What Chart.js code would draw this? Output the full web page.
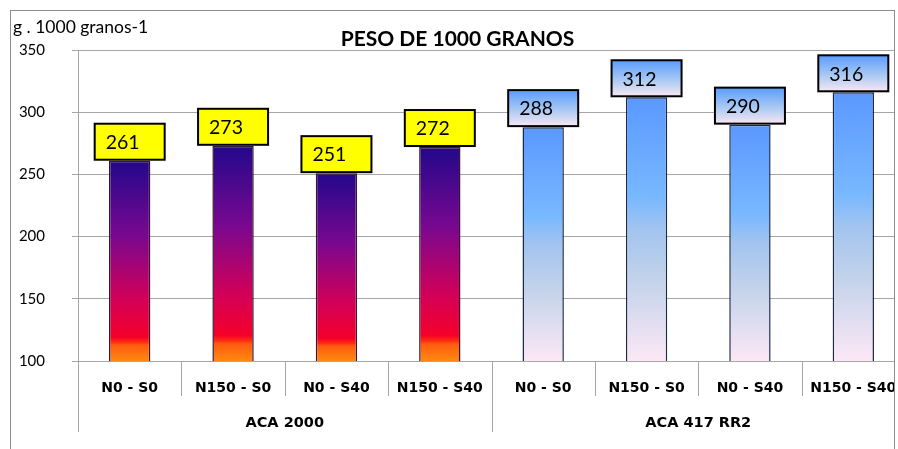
<!DOCTYPE html>
<html>
<head>
<meta charset="utf-8">
<script src="https://cdn.jsdelivr.net/npm/chart.js@4.4.0/dist/chart.umd.min.js"></script>
<style>
  html, body { margin: 0; padding: 0; background: #fff; overflow: hidden; width: 898px; height: 449px; }
  canvas { display: block; }
</style>
</head>
<body>
<!-- the picture is cropped on the right, so the canvas runs a few pixels past the window -->
<canvas id="chart" width="905" height="449"></canvas>
<script>
// data
const categories = ['N0 - S0', 'N150 - S0', 'N0 - S40', 'N150 - S40', 'N0 - S0', 'N150 - S0', 'N0 - S40', 'N150 - S40'];
const groups = ['ACA 2000', 'ACA 417 RR2'];
const groupSizes = [4, 4];
const weights = [261, 273, 251, 272, 288, 312, 290, 316];
const yMin = 100, yMax = 350, yStep = 50;
const chartTitle = 'PESO DE 1000 GRANOS';
const yCaption = 'g . 1000 granos-1';

// group index of every bar
const groupOf = [];
groupSizes.forEach((n, g) => { for (let i = 0; i < n; i++) groupOf.push(g); });

function barGradient(ctx, top, bottom, g) {
    const grad = ctx.createLinearGradient(0, top, 0, bottom);
    if (g === 0) {
        grad.addColorStop(0, '#22088a');
        grad.addColorStop(0.37, '#780890');
        grad.addColorStop(0.69, '#d20058');
        grad.addColorStop(0.88, '#f5002a');
        grad.addColorStop(0.905, '#ff2a10');
        grad.addColorStop(0.92, '#ff5a10');
        grad.addColorStop(1, '#ff8a10');
    } else {
        grad.addColorStop(0, '#5a98ff');
        grad.addColorStop(0.38, '#78b8ff');
        grad.addColorStop(0.5, '#a2c4ef');
        grad.addColorStop(0.7, '#c4d3ea');
        grad.addColorStop(1, '#fce8f6');
    }
    return grad;
}

const framePlugin = {
    id: 'frame',
    afterDraw(chart) {
        const ctx = chart.ctx;
        const area = chart.chartArea;
        const x = chart.scales.x;
        ctx.save();
        // y caption
        ctx.fillStyle = '#000';
        ctx.font = '17.5px Lato';
        ctx.textBaseline = 'middle';
        ctx.textAlign = 'left';
        ctx.fillText(yCaption, 13, 27);

        // separators under the x axis
        ctx.strokeStyle = '#a6a6a6';
        ctx.lineWidth = 1;
        const shortEnd = area.bottom + 35;
        const longEnd = area.bottom + 71;
        let idx = 0;
        const edges = [area.left];
        for (let i = 1; i < categories.length; i++) {
            edges.push((x.getPixelForValue(i - 1) + x.getPixelForValue(i)) / 2);
        }
        edges.push(area.right);
        const groupEdges = [0];
        groupSizes.forEach(n => { idx += n; groupEdges.push(idx); });
        edges.forEach((ex, i) => {
            const end = groupEdges.includes(i) ? longEnd : shortEnd;
            const px = Math.round(ex) + 0.5;
            ctx.beginPath();
            ctx.moveTo(px, area.bottom);
            ctx.lineTo(px, end);
            ctx.stroke();
        });

        // group labels
        ctx.fillStyle = '#000';
        ctx.font = 'bold 14.5px "DejaVu Sans"';
        ctx.textAlign = 'center';
        groups.forEach((name, g) => {
            const cx = (edges[groupEdges[g]] + edges[groupEdges[g + 1]]) / 2;
            ctx.fillText(name, cx, area.bottom + 62);
        });

        // outer frame
        ctx.clearRect(895, 0, chart.width - 895, chart.height);
        ctx.strokeStyle = '#8c8c8c';
        ctx.strokeRect(10.5, 10.5, 884, 460);
        ctx.restore();
    }
};

const boxLabelPlugin = {
    id: 'boxLabels',
    afterDatasetsDraw(chart) {
        const ctx = chart.ctx;
        const meta = chart.getDatasetMeta(0);
        ctx.save();
        meta.data.forEach((bar, i) => {
            const w = 70, h = 36;
            const left = bar.x - w / 2;
            const top = bar.y - 1 - h;
            if (groupOf[i] === 0) {
                ctx.fillStyle = '#ffff00';
            } else {
                const grad = ctx.createLinearGradient(0, top, 0, top + h);
                grad.addColorStop(0, '#5a9cff');
                grad.addColorStop(0.55, '#a9c9f2');
                grad.addColorStop(1, '#f8e6f3');
                ctx.fillStyle = grad;
            }
            ctx.fillRect(left, top, w, h);
            ctx.strokeStyle = '#000';
            ctx.lineWidth = 2;
            ctx.strokeRect(left, top, w, h);
            ctx.fillStyle = '#000';
            ctx.font = '19.5px Lato';
            ctx.textAlign = 'left';
            ctx.textBaseline = 'middle';
            ctx.fillText(String(weights[i]), left + 11, top + h / 2 + 1);
        });
        ctx.restore();
    }
};

new Chart(document.getElementById('chart'), {
    type: 'bar',
    data: {
        labels: categories,
        datasets: [{
            data: weights,
            backgroundColor(context) {
                const chart = context.chart;
                const y = chart.scales.y;
                if (!chart.chartArea || !y || context.dataIndex === undefined) return '#888';
                const top = y.getPixelForValue(weights[context.dataIndex]);
                const bottom = y.getPixelForValue(yMin);
                return barGradient(chart.ctx, top, bottom, groupOf[context.dataIndex]);
            },
            borderColor: weights.map((v, i) => groupOf[i] === 0 ? '#3a1430' : '#1c2a48'),
            borderWidth: 1.5,
            borderSkipped: false,
            barPercentage: 0.4,
            categoryPercentage: 1
        }]
    },
    options: {
        responsive: false,
        animation: false,
        layout: { padding: { left: 10, right: 0, top: 0, bottom: 0 } },
        plugins: {
            legend: { display: false },
            tooltip: { enabled: false },
            title: {
                display: true,
                text: chartTitle,
                color: '#000',
                font: { family: 'Lato', size: 21, weight: 'bold', lineHeight: 1 },
                padding: { top: 29, bottom: 0 }
            }
        },
        scales: {
            x: {
                grid: { display: false, drawTicks: false, tickLength: 0 },
                border: { display: false },
                ticks: {
                    color: '#000',
                    font: { family: 'DejaVu Sans', size: 14, weight: 'bold', lineHeight: '54px' },
                    padding: 0,
                    maxRotation: 0,
                    autoSkip: false
                },
                afterFit(scale) { scale.height = 88; }
            },
            y: {
                min: yMin,
                max: yMax,
                ticks: {
                    stepSize: yStep,
                    color: '#000',
                    font: { family: 'Lato', size: 15 },
                    padding: 27
                },
                grid: { color: '#a6a6a6', tickLength: 6 },
                border: { color: '#a6a6a6' },
                afterFit(scale) { scale.width = 68; }
            }
        }
    },
    plugins: [framePlugin, boxLabelPlugin]
});
</script>
</body>
</html>
